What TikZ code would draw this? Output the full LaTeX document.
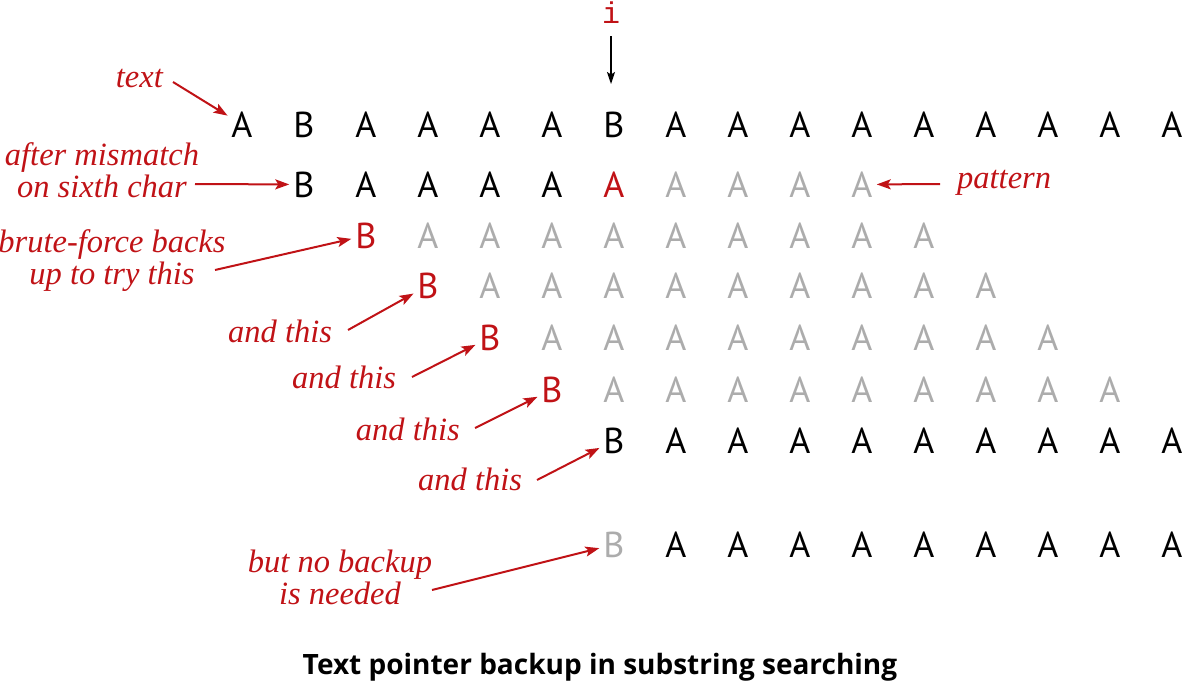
\documentclass[tikz,border=0pt]{standalone}
\usepackage{fontspec}
\newfontfamily\letterfont{PT Sans}
\newfontfamily\capfont{Open Sans}
\newfontfamily\labfont{Liberation Serif}
\newfontfamily\pmono{Liberation Mono}
\usetikzlibrary{arrows.meta}
\definecolor{labred}{RGB}{192,18,22}
\definecolor{ltgray}{RGB}{172,172,172}
\tikzset{
  ch/.style={font=\letterfont\fontsize{36}{36}\selectfont, inner sep=2pt,
    text height=25pt, text depth=0pt, anchor=base},
  lab/.style={font=\labfont\itshape\fontsize{32.5}{32}\selectfont, text=labred,
    align=center, inner sep=0pt},
  arr/.style={draw=labred, line width=2pt,
    -{Stealth[length=14pt,width=10pt,inset=3pt]}, shorten >=2pt},
  blkarr/.style={draw=black, line width=1.4pt,
    -{Stealth[length=12pt,width=8pt,inset=2.5pt]}},
}
\begin{document}
\begin{tikzpicture}[x=1pt,y=-1pt]
\useasboundingbox (0,0) rectangle (1200,686);
% ---- text row
\foreach \c/\l in {0/A,1/B,2/A,3/A,4/A,5/A,6/B,7/A,8/A,9/A,10/A,11/A,12/A,13/A,14/A,15/A}
  \node[ch] (r0c\c) at ({242+62*\c},137) {\l};
% ---- row 1: after mismatch
\node[ch] (r1c1) at (304,197) {B};
\foreach \c in {2,...,5} \node[ch] (r1c\c) at ({242+62*\c},197) {A};
\node[ch,text=labred] (r1c6) at (614,197) {A};
\foreach \c in {7,...,10} \node[ch,text=ltgray] (r1c\c) at ({242+62*\c},197) {A};
% ---- rows 2-5: brute-force backups
\foreach \r/\y in {2/248,3/298,4/350,5/402}{
  \node[ch,text=labred] (r\r c\r) at ({242+62*\r},\y) {B};
  \pgfmathtruncatemacro{\cs}{\r+1}
  \pgfmathtruncatemacro{\ce}{\r+9}
  \foreach \c in {\cs,...,\ce} \node[ch,text=ltgray] (r\r c\c) at ({242+62*\c},\y) {A};
}
% ---- row 6
\node[ch] (r6c6) at (614,453) {B};
\foreach \c in {7,...,15} \node[ch] (r6c\c) at ({242+62*\c},453) {A};
% ---- row 7
\node[ch,text=ltgray] (r7c6) at (614,557) {B};
\foreach \c in {7,...,15} \node[ch] (r7c\c) at ({242+62*\c},557) {A};
% ---- pointer i
\node[font=\pmono\fontsize{30}{30}\selectfont, text=labred, anchor=base, inner sep=1pt] (ptr) at (611,23) {i};
\coordinate (ptrtip) at (611,84);
\draw[blkarr, shorten <=12pt] (ptr.south) -- (ptrtip);
% ---- labels (base anchor = baseline of last line)
\node[lab, anchor=base east] (ltext) at (163,87) {text};
\node[lab, anchor=base] (lmis) at (102,197) {after mismatch\\on sixth char};
\node[lab, anchor=base] (lbrute) at (112,284) {brute-force backs\\up to try this};
\node[lab, anchor=base west] (land1) at (228,342) {and this};
\node[lab, anchor=base west] (land2) at (292,388) {and this};
\node[lab, anchor=base east] (land3) at (460,440) {and this};
\node[lab, anchor=base west] (land4) at (418,490) {and this};
\node[lab, anchor=base] (lnob) at (340,604) {but no backup\\is needed};
\node[lab, anchor=base west] (lpat) at (957,188) {pattern};
% ---- arrow starts
\coordinate (s0) at (173,82);
\coordinate (s1) at (195,184);
\coordinate (s2) at (215,270);
\coordinate (s3) at (348,330);
\coordinate (s4) at (412,377);
\coordinate (s5) at (475,428);
\coordinate (s6) at (537,480);
\coordinate (s7) at (432,590);
\coordinate (sp) at (940,184);
% ---- arrows
\draw[arr] (s0) -- (r0c0);
\draw[arr] (s1) -- (r1c1);
\draw[arr] (s2) -- (r2c2);
\draw[arr] (s3) -- (r3c3);
\draw[arr] (s4) -- (r4c4);
\draw[arr] (s5) -- (r5c5);
\draw[arr] (s6) -- (r6c6);
\draw[arr] (s7) -- (r7c6);
\draw[arr] (sp) -- (r1c10);
% ---- caption
\node[font=\capfont\bfseries\fontsize{28}{28}\selectfont, anchor=base, inner sep=0pt] (cap) at (600,674) {Text pointer backup in substring searching};
\end{tikzpicture}
\end{document}
